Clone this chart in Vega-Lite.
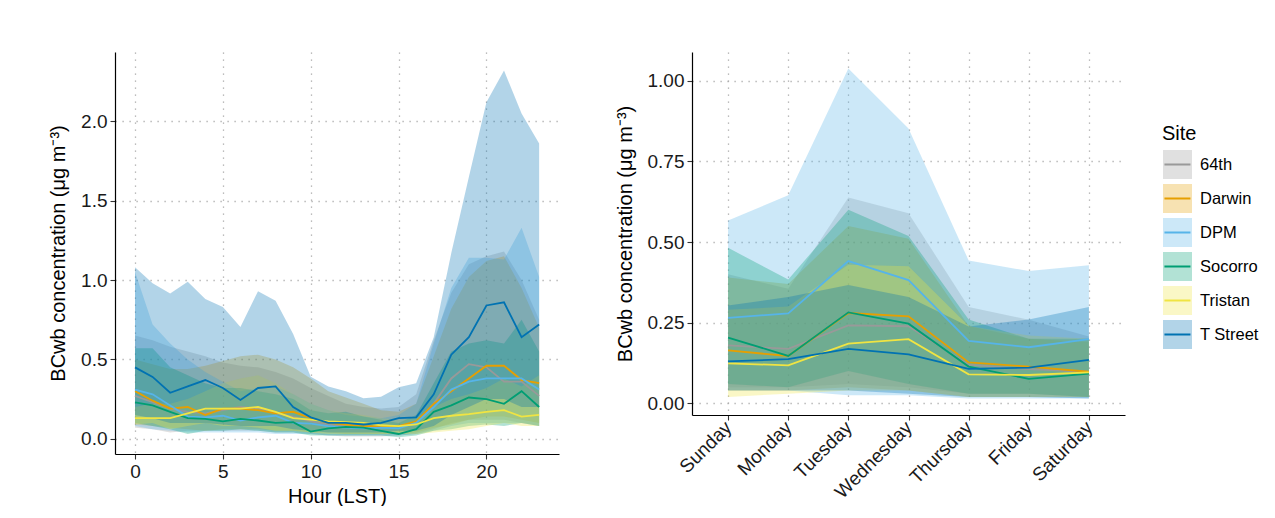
{
"$schema": "https://vega.github.io/schema/vega-lite/v6.json",
"padding": {"left": 48, "top": 52, "right": 0, "bottom": 0},
"background": "white",
"config": {
  "font": "Liberation Sans",
  "view": {"stroke": null},
  "axis": {"domainColor": "#000000", "domainWidth": 1.2, "tickColor": "#333333", "tickSize": 5, "tickWidth": 1.1, "labelFontSize": 19, "labelColor": "#1a1a1a", "labelPadding": 3, "titleFontSize": 20, "titleFontWeight": "normal", "titleColor": "#000000", "gridColor": "#a8a8a8", "gridDash": [1.2, 5.8], "gridWidth": 1.3, "titlePadding": 12}
},
"datasets": {
"hourly": [
{"site":"64th","hour":0,"mean":0.27,"lo":0.07,"hi":0.65},
{"site":"64th","hour":1,"mean":0.23,"lo":0.06,"hi":0.62},
{"site":"64th","hour":2,"mean":0.19,"lo":0.04,"hi":0.58},
{"site":"64th","hour":3,"mean":0.17,"lo":0.05,"hi":0.55},
{"site":"64th","hour":4,"mean":0.16,"lo":0.05,"hi":0.52},
{"site":"64th","hour":5,"mean":0.18,"lo":0.05,"hi":0.48},
{"site":"64th","hour":6,"mean":0.20,"lo":0.05,"hi":0.46},
{"site":"64th","hour":7,"mean":0.19,"lo":0.05,"hi":0.45},
{"site":"64th","hour":8,"mean":0.16,"lo":0.04,"hi":0.42},
{"site":"64th","hour":9,"mean":0.14,"lo":0.04,"hi":0.38},
{"site":"64th","hour":10,"mean":0.11,"lo":0.03,"hi":0.32},
{"site":"64th","hour":11,"mean":0.09,"lo":0.02,"hi":0.27},
{"site":"64th","hour":12,"mean":0.08,"lo":0.015,"hi":0.22},
{"site":"64th","hour":13,"mean":0.075,"lo":0.015,"hi":0.20},
{"site":"64th","hour":14,"mean":0.075,"lo":0.015,"hi":0.19},
{"site":"64th","hour":15,"mean":0.08,"lo":0.02,"hi":0.20},
{"site":"64th","hour":16,"mean":0.10,"lo":0.03,"hi":0.28},
{"site":"64th","hour":17,"mean":0.22,"lo":0.06,"hi":0.62},
{"site":"64th","hour":18,"mean":0.38,"lo":0.10,"hi":0.92},
{"site":"64th","hour":19,"mean":0.47,"lo":0.12,"hi":1.10},
{"site":"64th","hour":20,"mean":0.45,"lo":0.12,"hi":1.15},
{"site":"64th","hour":21,"mean":0.36,"lo":0.12,"hi":1.18},
{"site":"64th","hour":22,"mean":0.36,"lo":0.10,"hi":1.00},
{"site":"64th","hour":23,"mean":0.27,"lo":0.08,"hi":0.75},
{"site":"Darwin","hour":0,"mean":0.30,"lo":0.09,"hi":0.50},
{"site":"Darwin","hour":1,"mean":0.24,"lo":0.08,"hi":0.47},
{"site":"Darwin","hour":2,"mean":0.19,"lo":0.07,"hi":0.44},
{"site":"Darwin","hour":3,"mean":0.20,"lo":0.06,"hi":0.44},
{"site":"Darwin","hour":4,"mean":0.15,"lo":0.05,"hi":0.46},
{"site":"Darwin","hour":5,"mean":0.19,"lo":0.06,"hi":0.49},
{"site":"Darwin","hour":6,"mean":0.19,"lo":0.06,"hi":0.52},
{"site":"Darwin","hour":7,"mean":0.18,"lo":0.06,"hi":0.53},
{"site":"Darwin","hour":8,"mean":0.16,"lo":0.05,"hi":0.50},
{"site":"Darwin","hour":9,"mean":0.17,"lo":0.05,"hi":0.45},
{"site":"Darwin","hour":10,"mean":0.13,"lo":0.04,"hi":0.38},
{"site":"Darwin","hour":11,"mean":0.10,"lo":0.04,"hi":0.30},
{"site":"Darwin","hour":12,"mean":0.09,"lo":0.03,"hi":0.26},
{"site":"Darwin","hour":13,"mean":0.08,"lo":0.03,"hi":0.22},
{"site":"Darwin","hour":14,"mean":0.08,"lo":0.03,"hi":0.18},
{"site":"Darwin","hour":15,"mean":0.08,"lo":0.03,"hi":0.17},
{"site":"Darwin","hour":16,"mean":0.11,"lo":0.04,"hi":0.22},
{"site":"Darwin","hour":17,"mean":0.22,"lo":0.07,"hi":0.52},
{"site":"Darwin","hour":18,"mean":0.30,"lo":0.09,"hi":0.82},
{"site":"Darwin","hour":19,"mean":0.38,"lo":0.12,"hi":1.02},
{"site":"Darwin","hour":20,"mean":0.46,"lo":0.14,"hi":1.12},
{"site":"Darwin","hour":21,"mean":0.46,"lo":0.14,"hi":1.15},
{"site":"Darwin","hour":22,"mean":0.37,"lo":0.12,"hi":0.95},
{"site":"Darwin","hour":23,"mean":0.35,"lo":0.10,"hi":0.70},
{"site":"DPM","hour":0,"mean":0.31,"lo":0.08,"hi":1.05},
{"site":"DPM","hour":1,"mean":0.28,"lo":0.06,"hi":0.72},
{"site":"DPM","hour":2,"mean":0.21,"lo":0.05,"hi":0.60},
{"site":"DPM","hour":3,"mean":0.14,"lo":0.04,"hi":0.50},
{"site":"DPM","hour":4,"mean":0.135,"lo":0.04,"hi":0.42},
{"site":"DPM","hour":5,"mean":0.145,"lo":0.04,"hi":0.36},
{"site":"DPM","hour":6,"mean":0.115,"lo":0.04,"hi":0.30},
{"site":"DPM","hour":7,"mean":0.135,"lo":0.04,"hi":0.32},
{"site":"DPM","hour":8,"mean":0.145,"lo":0.03,"hi":0.33},
{"site":"DPM","hour":9,"mean":0.10,"lo":0.03,"hi":0.28},
{"site":"DPM","hour":10,"mean":0.095,"lo":0.03,"hi":0.22},
{"site":"DPM","hour":11,"mean":0.08,"lo":0.02,"hi":0.18},
{"site":"DPM","hour":12,"mean":0.07,"lo":0.02,"hi":0.15},
{"site":"DPM","hour":13,"mean":0.065,"lo":0.02,"hi":0.14},
{"site":"DPM","hour":14,"mean":0.07,"lo":0.02,"hi":0.13},
{"site":"DPM","hour":15,"mean":0.065,"lo":0.02,"hi":0.15},
{"site":"DPM","hour":16,"mean":0.10,"lo":0.03,"hi":0.22},
{"site":"DPM","hour":17,"mean":0.20,"lo":0.05,"hi":0.60},
{"site":"DPM","hour":18,"mean":0.31,"lo":0.08,"hi":0.95},
{"site":"DPM","hour":19,"mean":0.36,"lo":0.10,"hi":1.14},
{"site":"DPM","hour":20,"mean":0.38,"lo":0.10,"hi":1.14},
{"site":"DPM","hour":21,"mean":0.38,"lo":0.10,"hi":1.13},
{"site":"DPM","hour":22,"mean":0.38,"lo":0.10,"hi":1.33},
{"site":"DPM","hour":23,"mean":0.31,"lo":0.08,"hi":1.02},
{"site":"Socorro","hour":0,"mean":0.23,"lo":0.10,"hi":0.57},
{"site":"Socorro","hour":1,"mean":0.21,"lo":0.08,"hi":0.57},
{"site":"Socorro","hour":2,"mean":0.17,"lo":0.06,"hi":0.45},
{"site":"Socorro","hour":3,"mean":0.13,"lo":0.03,"hi":0.40},
{"site":"Socorro","hour":4,"mean":0.125,"lo":0.05,"hi":0.35},
{"site":"Socorro","hour":5,"mean":0.11,"lo":0.05,"hi":0.32},
{"site":"Socorro","hour":6,"mean":0.125,"lo":0.06,"hi":0.32},
{"site":"Socorro","hour":7,"mean":0.115,"lo":0.05,"hi":0.30},
{"site":"Socorro","hour":8,"mean":0.10,"lo":0.04,"hi":0.28},
{"site":"Socorro","hour":9,"mean":0.105,"lo":0.04,"hi":0.25},
{"site":"Socorro","hour":10,"mean":0.045,"lo":0.02,"hi":0.18},
{"site":"Socorro","hour":11,"mean":0.065,"lo":0.02,"hi":0.16},
{"site":"Socorro","hour":12,"mean":0.075,"lo":0.02,"hi":0.17},
{"site":"Socorro","hour":13,"mean":0.07,"lo":0.02,"hi":0.14},
{"site":"Socorro","hour":14,"mean":0.05,"lo":0.02,"hi":0.12},
{"site":"Socorro","hour":15,"mean":0.03,"lo":0.01,"hi":0.10},
{"site":"Socorro","hour":16,"mean":0.06,"lo":0.02,"hi":0.15},
{"site":"Socorro","hour":17,"mean":0.17,"lo":0.05,"hi":0.35},
{"site":"Socorro","hour":18,"mean":0.21,"lo":0.06,"hi":0.55},
{"site":"Socorro","hour":19,"mean":0.26,"lo":0.08,"hi":0.60},
{"site":"Socorro","hour":20,"mean":0.25,"lo":0.09,"hi":0.62},
{"site":"Socorro","hour":21,"mean":0.22,"lo":0.08,"hi":0.60},
{"site":"Socorro","hour":22,"mean":0.30,"lo":0.10,"hi":0.75},
{"site":"Socorro","hour":23,"mean":0.20,"lo":0.08,"hi":0.55},
{"site":"Tristan","hour":0,"mean":0.13,"lo":0.09,"hi":0.20},
{"site":"Tristan","hour":1,"mean":0.13,"lo":0.10,"hi":0.22},
{"site":"Tristan","hour":2,"mean":0.13,"lo":0.06,"hi":0.22},
{"site":"Tristan","hour":3,"mean":0.16,"lo":0.08,"hi":0.25},
{"site":"Tristan","hour":4,"mean":0.19,"lo":0.10,"hi":0.30},
{"site":"Tristan","hour":5,"mean":0.19,"lo":0.08,"hi":0.35},
{"site":"Tristan","hour":6,"mean":0.19,"lo":0.08,"hi":0.38},
{"site":"Tristan","hour":7,"mean":0.20,"lo":0.07,"hi":0.40},
{"site":"Tristan","hour":8,"mean":0.17,"lo":0.05,"hi":0.35},
{"site":"Tristan","hour":9,"mean":0.13,"lo":0.05,"hi":0.28},
{"site":"Tristan","hour":10,"mean":0.12,"lo":0.04,"hi":0.22},
{"site":"Tristan","hour":11,"mean":0.11,"lo":0.03,"hi":0.18},
{"site":"Tristan","hour":12,"mean":0.105,"lo":0.03,"hi":0.16},
{"site":"Tristan","hour":13,"mean":0.10,"lo":0.03,"hi":0.15},
{"site":"Tristan","hour":14,"mean":0.085,"lo":0.03,"hi":0.13},
{"site":"Tristan","hour":15,"mean":0.08,"lo":0.03,"hi":0.12},
{"site":"Tristan","hour":16,"mean":0.09,"lo":0.03,"hi":0.13},
{"site":"Tristan","hour":17,"mean":0.13,"lo":0.04,"hi":0.20},
{"site":"Tristan","hour":18,"mean":0.145,"lo":0.05,"hi":0.25},
{"site":"Tristan","hour":19,"mean":0.155,"lo":0.06,"hi":0.28},
{"site":"Tristan","hour":20,"mean":0.17,"lo":0.08,"hi":0.32},
{"site":"Tristan","hour":21,"mean":0.18,"lo":0.10,"hi":0.38},
{"site":"Tristan","hour":22,"mean":0.14,"lo":0.08,"hi":0.33},
{"site":"Tristan","hour":23,"mean":0.15,"lo":0.08,"hi":0.40},
{"site":"T Street","hour":0,"mean":0.45,"lo":0.15,"hi":1.08},
{"site":"T Street","hour":1,"mean":0.39,"lo":0.13,"hi":0.98},
{"site":"T Street","hour":2,"mean":0.29,"lo":0.10,"hi":0.915},
{"site":"T Street","hour":3,"mean":0.33,"lo":0.10,"hi":0.99},
{"site":"T Street","hour":4,"mean":0.37,"lo":0.10,"hi":0.88},
{"site":"T Street","hour":5,"mean":0.32,"lo":0.09,"hi":0.83},
{"site":"T Street","hour":6,"mean":0.245,"lo":0.08,"hi":0.705},
{"site":"T Street","hour":7,"mean":0.32,"lo":0.08,"hi":0.93},
{"site":"T Street","hour":8,"mean":0.33,"lo":0.08,"hi":0.87},
{"site":"T Street","hour":9,"mean":0.20,"lo":0.06,"hi":0.66},
{"site":"T Street","hour":10,"mean":0.135,"lo":0.05,"hi":0.39},
{"site":"T Street","hour":11,"mean":0.10,"lo":0.04,"hi":0.33},
{"site":"T Street","hour":12,"mean":0.10,"lo":0.04,"hi":0.30},
{"site":"T Street","hour":13,"mean":0.09,"lo":0.04,"hi":0.255},
{"site":"T Street","hour":14,"mean":0.10,"lo":0.04,"hi":0.265},
{"site":"T Street","hour":15,"mean":0.13,"lo":0.05,"hi":0.325},
{"site":"T Street","hour":16,"mean":0.135,"lo":0.05,"hi":0.35},
{"site":"T Street","hour":17,"mean":0.28,"lo":0.08,"hi":0.64},
{"site":"T Street","hour":18,"mean":0.53,"lo":0.15,"hi":1.17},
{"site":"T Street","hour":19,"mean":0.64,"lo":0.20,"hi":1.65},
{"site":"T Street","hour":20,"mean":0.84,"lo":0.25,"hi":2.12},
{"site":"T Street","hour":21,"mean":0.86,"lo":0.25,"hi":2.32},
{"site":"T Street","hour":22,"mean":0.64,"lo":0.20,"hi":2.05},
{"site":"T Street","hour":23,"mean":0.72,"lo":0.20,"hi":1.86}
],
"weekly": [
{"site":"64th","day":"Sunday","mean":0.18,"lo":0.05,"hi":0.40},
{"site":"64th","day":"Monday","mean":0.169,"lo":0.05,"hi":0.355},
{"site":"64th","day":"Tuesday","mean":0.242,"lo":0.06,"hi":0.638},
{"site":"64th","day":"Wednesday","mean":0.239,"lo":0.05,"hi":0.589},
{"site":"64th","day":"Thursday","mean":0.12,"lo":0.03,"hi":0.299},
{"site":"64th","day":"Friday","mean":0.106,"lo":0.03,"hi":0.259},
{"site":"64th","day":"Saturday","mean":0.098,"lo":0.02,"hi":0.207},
{"site":"Darwin","day":"Sunday","mean":0.164,"lo":0.04,"hi":0.39},
{"site":"Darwin","day":"Monday","mean":0.147,"lo":0.04,"hi":0.37},
{"site":"Darwin","day":"Tuesday","mean":0.28,"lo":0.05,"hi":0.55},
{"site":"Darwin","day":"Wednesday","mean":0.27,"lo":0.04,"hi":0.51},
{"site":"Darwin","day":"Thursday","mean":0.127,"lo":0.02,"hi":0.24},
{"site":"Darwin","day":"Friday","mean":0.114,"lo":0.02,"hi":0.20},
{"site":"Darwin","day":"Saturday","mean":0.098,"lo":0.02,"hi":0.19},
{"site":"DPM","day":"Sunday","mean":0.265,"lo":0.04,"hi":0.567},
{"site":"DPM","day":"Monday","mean":0.279,"lo":0.04,"hi":0.645},
{"site":"DPM","day":"Tuesday","mean":0.441,"lo":0.025,"hi":1.038},
{"site":"DPM","day":"Wednesday","mean":0.382,"lo":0.025,"hi":0.852},
{"site":"DPM","day":"Thursday","mean":0.194,"lo":0.015,"hi":0.443},
{"site":"DPM","day":"Friday","mean":0.174,"lo":0.015,"hi":0.41},
{"site":"DPM","day":"Saturday","mean":0.199,"lo":0.015,"hi":0.428},
{"site":"Socorro","day":"Sunday","mean":0.204,"lo":0.06,"hi":0.482},
{"site":"Socorro","day":"Monday","mean":0.147,"lo":0.05,"hi":0.384},
{"site":"Socorro","day":"Tuesday","mean":0.282,"lo":0.10,"hi":0.60},
{"site":"Socorro","day":"Wednesday","mean":0.247,"lo":0.06,"hi":0.519},
{"site":"Socorro","day":"Thursday","mean":0.114,"lo":0.03,"hi":0.26},
{"site":"Socorro","day":"Friday","mean":0.076,"lo":0.03,"hi":0.20},
{"site":"Socorro","day":"Saturday","mean":0.092,"lo":0.02,"hi":0.20},
{"site":"Tristan","day":"Sunday","mean":0.124,"lo":0.02,"hi":0.29},
{"site":"Tristan","day":"Monday","mean":0.118,"lo":0.03,"hi":0.30},
{"site":"Tristan","day":"Tuesday","mean":0.185,"lo":0.04,"hi":0.43},
{"site":"Tristan","day":"Wednesday","mean":0.199,"lo":0.04,"hi":0.425},
{"site":"Tristan","day":"Thursday","mean":0.09,"lo":0.02,"hi":0.24},
{"site":"Tristan","day":"Friday","mean":0.088,"lo":0.02,"hi":0.21},
{"site":"Tristan","day":"Saturday","mean":0.096,"lo":0.02,"hi":0.20},
{"site":"T Street","day":"Sunday","mean":0.13,"lo":0.04,"hi":0.303},
{"site":"T Street","day":"Monday","mean":0.137,"lo":0.04,"hi":0.33},
{"site":"T Street","day":"Tuesday","mean":0.169,"lo":0.04,"hi":0.367},
{"site":"T Street","day":"Wednesday","mean":0.152,"lo":0.03,"hi":0.33},
{"site":"T Street","day":"Thursday","mean":0.107,"lo":0.02,"hi":0.238},
{"site":"T Street","day":"Friday","mean":0.111,"lo":0.02,"hi":0.26},
{"site":"T Street","day":"Saturday","mean":0.135,"lo":0.015,"hi":0.299}
]
},
"spacing": 56,
"resolve": {"scale": {"fill": "shared", "stroke": "shared"}, "legend": {"fill": "shared", "stroke": "shared"}},
"hconcat": [
{
  "width": 444, "height": 402,
  "data": {"name": "hourly"},
  "layer": [
    {
      "mark": {"type": "area", "fillOpacity": 0.3, "strokeWidth": 0},
      "encoding": {
        "x": {"field": "hour", "type": "quantitative", "scale": {"domain": [-1.14, 24.13], "nice": false, "zero": false}, "axis": {"values": [0, 5, 10, 15, 20], "title": "Hour (LST)", "titlePadding": 5, "grid": true}},
        "y": {"field": "lo", "type": "quantitative", "scale": {"domain": [-0.096, 2.437], "nice": false, "zero": false}, "axis": {"values": [0, 0.5, 1, 1.5, 2], "format": ".1f", "title": "BCwb concentration (μg m⁻³)", "grid": true}},
        "y2": {"field": "hi"},
        "fill": {"field": "site", "type": "nominal",
          "scale": {"domain": ["64th", "Darwin", "DPM", "Socorro", "Tristan", "T Street"], "range": ["#999999", "#E69F00", "#56B4E9", "#009E73", "#F0E442", "#0072B2"]},
          "legend": {"orient": "none", "legendX": 1047, "legendY": 72, "title": "Site", "titleFontSize": 20, "titleFontWeight": "normal", "titleColor": "#000000", "titlePadding": 5, "labelFontSize": 16.5, "labelColor": "#000000", "labelOffset": 7, "symbolType": "M-0.9,0H0.9H1V1H-1V-1H1V0Z", "symbolSize": 841, "symbolDash": [26, 1000], "symbolStrokeWidth": 2, "rowPadding": -4, "padding": 0,
            "encode": {"symbols": {"update": {"fill": {"scale": "fill", "field": "value"}, "stroke": {"scale": "stroke", "field": "value"}, "fillOpacity": {"value": 0.3}, "strokeOpacity": {"value": 1}, "opacity": {"value": 1}}}}}
        }
      }
    },
    {
      "mark": {"type": "line", "strokeWidth": 1.8},
      "encoding": {
        "x": {"field": "hour", "type": "quantitative"},
        "y": {"field": "mean", "type": "quantitative"},
        "stroke": {"field": "site", "type": "nominal",
          "scale": {"domain": ["64th", "Darwin", "DPM", "Socorro", "Tristan", "T Street"], "range": ["#999999", "#E69F00", "#56B4E9", "#009E73", "#F0E442", "#0072B2"]},
          "legend": {"orient": "none", "legendX": 1047, "legendY": 72, "title": "Site", "titleFontSize": 20, "titleFontWeight": "normal", "titleColor": "#000000", "titlePadding": 5, "labelFontSize": 16.5, "labelColor": "#000000", "labelOffset": 7, "symbolType": "M-0.9,0H0.9H1V1H-1V-1H1V0Z", "symbolSize": 841, "symbolDash": [26, 1000], "symbolStrokeWidth": 2, "rowPadding": -4, "padding": 0,
            "encode": {"symbols": {"update": {"fill": {"scale": "fill", "field": "value"}, "stroke": {"scale": "stroke", "field": "value"}, "fillOpacity": {"value": 0.3}, "strokeOpacity": {"value": 1}, "opacity": {"value": 1}}}}}
        }
      }
    }
  ]
},
{
  "width": 433, "height": 363,
  "data": {"name": "weekly"},
  "layer": [
    {
      "mark": {"type": "area", "fillOpacity": 0.3, "strokeWidth": 0},
      "encoding": {
        "x": {"field": "day", "type": "nominal", "sort": ["Sunday", "Monday", "Tuesday", "Wednesday", "Thursday", "Friday", "Saturday"], "scale": {"type": "point", "padding": 0.6}, "axis": {"title": null, "grid": true, "labelAngle": -45, "labelAlign": "right", "labelBaseline": "middle", "labelPadding": 4}},
        "y": {"field": "lo", "type": "quantitative", "scale": {"domain": [-0.036, 1.089], "nice": false, "zero": false}, "axis": {"values": [0, 0.25, 0.5, 0.75, 1], "format": ".2f", "title": "BCwb concentration (μg m⁻³)", "grid": true}},
        "y2": {"field": "hi"},
        "fill": {"field": "site", "type": "nominal"}
      }
    },
    {
      "mark": {"type": "line", "strokeWidth": 1.8},
      "encoding": {
        "x": {"field": "day", "type": "nominal", "sort": ["Sunday", "Monday", "Tuesday", "Wednesday", "Thursday", "Friday", "Saturday"]},
        "y": {"field": "mean", "type": "quantitative"},
        "stroke": {"field": "site", "type": "nominal"}
      }
    }
  ]
}
]
}
